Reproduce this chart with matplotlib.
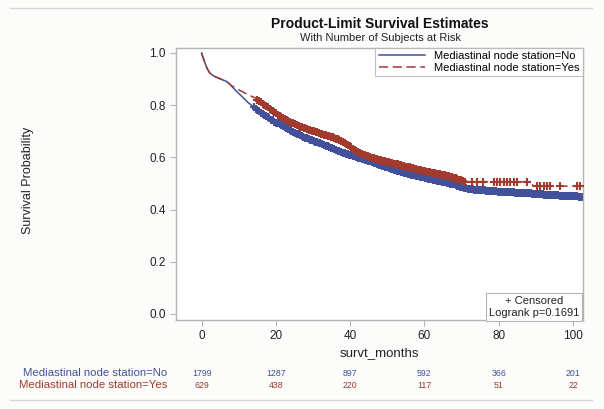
import matplotlib
matplotlib.use('Agg')
import matplotlib.pyplot as plt
import matplotlib.transforms as mtransforms
from matplotlib.lines import Line2D
import numpy as np

plt.rcParams['font.family'] = ['Liberation Sans', 'DejaVu Sans']

# Survival curves (time in months, survival probability).
noTimes = [0, 0.3, 0.9, 1.5, 2.2, 3.2, 4.5, 5.5, 6.7, 7.5, 8.1, 9.5, 10.8, 12.5, 14.4, 16, 18, 20, 22,
           25.5, 28.5, 31.9, 34.5, 37.3, 40, 42.6, 45.4, 48, 50.7, 53.4, 57, 60.6, 63, 66, 68, 69.6,
           71, 73, 75, 80, 85, 88.5, 92, 96, 100, 102.5]
noSurv = [1.0, 0.985, 0.962, 0.94, 0.923, 0.912, 0.904, 0.898, 0.891, 0.882, 0.872, 0.852, 0.834,
          0.81, 0.789, 0.77, 0.751, 0.734, 0.718, 0.692, 0.671, 0.654, 0.638, 0.622, 0.609, 0.597,
          0.585, 0.571, 0.558, 0.545, 0.532, 0.52, 0.512, 0.503, 0.496, 0.488, 0.481, 0.477, 0.475,
          0.469, 0.465, 0.462, 0.458, 0.454, 0.451, 0.449]
yesTimes = [0, 0.3, 0.9, 1.5, 2.2, 3.2, 4.5, 5.5, 6.7, 8.1, 10.8, 12.5, 14.4, 16.2, 18.5, 20.6, 23.5,
            26.5, 29, 31.9, 34.5, 37.3, 40, 42.6, 45, 48, 50.7, 53.4, 57, 60.6, 63, 66, 68, 70.4, 71,
            88.8, 89.2, 102.2]
yesSurv = [1.0, 0.985, 0.962, 0.94, 0.923, 0.912, 0.904, 0.898, 0.891, 0.874, 0.853, 0.84, 0.828,
           0.808, 0.785, 0.764, 0.738, 0.718, 0.705, 0.692, 0.68, 0.667, 0.641, 0.616, 0.603, 0.59,
           0.58, 0.571, 0.558, 0.545, 0.538, 0.53, 0.522, 0.509, 0.507, 0.506, 0.49, 0.49]

# Censoring times (months).
noCensored = [14.1, 14.6, 15.0, 15.5, 15.9, 16.4, 16.8, 17.3, 17.8, 18.2, 18.7, 19.1, 19.6, 20.1,
              20.5, 21.0, 21.4, 21.9, 22.4, 22.8, 23.3, 23.7, 24.2, 24.7, 25.1, 25.6, 26.0, 26.5,
              27.0, 27.4, 27.9, 28.3, 28.8, 29.3, 29.7, 30.2, 30.6, 31.1, 31.6, 32.0, 32.5, 32.9,
              33.4, 33.9, 34.3, 34.8, 35.2, 35.7, 36.2, 36.6, 37.1, 37.5, 38.0, 38.5, 38.9, 39.4,
              39.8, 40.3, 40.8, 41.2, 41.7, 42.1, 42.6, 43.1, 43.5, 44.0, 44.4, 44.9, 45.4, 45.8,
              46.3, 46.7, 47.2, 47.7, 48.1, 48.6, 49.0, 49.5, 50.0, 50.4, 50.9, 51.3, 51.8, 52.3,
              52.7, 53.2, 53.6, 54.1, 54.6, 55.0, 55.5, 55.9, 56.4, 56.9, 57.3, 57.8, 58.2, 58.7,
              59.2, 59.6, 60.1, 60.5, 61.0, 61.5, 61.9, 62.4, 62.8, 63.3, 63.8, 64.2, 64.7, 65.1,
              65.6, 66.1, 66.5, 67.0, 67.4, 67.9, 68.4, 68.8, 69.3, 69.7, 70.2, 70.7, 71.1, 71.6,
              72.0, 72.5, 73.0, 73.4, 73.9, 74.3, 74.8, 75.3, 75.7, 76.2, 76.6, 77.1, 77.6, 78.0,
              78.5, 78.9, 79.4, 79.9, 80.3, 80.8, 81.2, 81.7, 82.2, 82.6, 83.1, 83.5, 84.0, 84.5,
              84.9, 85.4, 85.8, 86.3, 86.8, 87.2, 87.7, 88.1, 88.6, 89.1, 89.5, 90.0, 90.4, 90.9,
              91.4, 91.8, 92.3, 92.7, 93.2, 93.7, 94.1, 94.6, 95.0, 95.5, 96.0, 96.4, 96.9, 97.3,
              97.8, 98.3, 98.7, 99.2, 99.6, 100.1, 100.6, 101.0, 101.5, 101.9, 102.4]
yesCensored = [15.0, 15.5, 15.9, 16.4, 16.9, 17.3, 17.8, 18.3, 18.7, 19.2, 19.6, 20.1, 20.6, 21.0,
               21.5, 21.9, 22.4, 22.9, 23.3, 23.8, 24.2, 24.7, 25.2, 25.6, 26.1, 26.5, 27.0, 27.5,
               27.9, 28.4, 28.8, 29.3, 29.8, 30.2, 30.7, 31.1, 31.6, 32.1, 32.5, 33.0, 33.4, 33.9,
               34.4, 34.8, 35.3, 35.7, 36.2, 36.7, 37.1, 37.6, 38.0, 38.5, 39.0, 39.4, 39.9, 40.3,
               40.8, 41.3, 41.7, 42.2, 42.6, 43.1, 43.6, 44.0, 44.5, 44.9, 45.4, 45.9, 46.3, 46.8,
               47.2, 47.7, 48.2, 48.6, 49.1, 49.5, 50.0, 50.5, 50.9, 51.4, 51.8, 52.3, 52.8, 53.2,
               53.7, 54.1, 54.6, 55.1, 55.5, 56.0, 56.4, 56.9, 57.4, 57.8, 58.3, 58.7, 59.2, 59.7,
               60.1, 60.6, 61.0, 61.5, 62.0, 62.4, 62.9, 63.3, 63.8, 64.3, 64.7, 65.2, 65.6, 66.1,
               66.6, 67.0, 67.5, 67.9, 68.4, 68.9, 69.3, 69.8, 70.3, 71.0, 72.8, 74.1, 75.9, 78.6,
               79.5, 80.4, 81.3, 82.2, 83.1, 84.0, 84.9, 87.6, 90.3, 91.2, 92.1, 93.0, 93.9, 96.6,
               101.0, 102.0]

# Number at risk table.
riskTimes = [0, 20, 40, 60, 80, 100]
noAtRisk = [1799, 1287, 897, 592, 366, 201]
yesAtRisk = [629, 438, 220, 117, 51, 22]

noLabel = 'Mediastinal node station=No'
yesLabel = 'Mediastinal node station=Yes'
blue = '#42519a'
red = '#A23A2E'
gray = '#b4b4b4'

fig = plt.figure(figsize=(6.04, 4.09), dpi=100)
fig.patch.set_facecolor('#fcfcfa')
ax = fig.add_axes([176 / 604, 1 - 320 / 409, 407 / 604, 272 / 409])
ax.set_facecolor('white')

# Curves.
ax.plot(noTimes, noSurv, color=blue, linewidth=1.1, zorder=2, label=noLabel)
ax.plot(yesTimes, yesSurv, color=red, linewidth=1.1, linestyle=(0, (6, 3)), zorder=3, label=yesLabel)

# Censor marks sit on the curves.
ax.plot(noCensored, np.interp(noCensored, noTimes, noSurv), linestyle='none', marker='+',
        markersize=5.5, markeredgewidth=1.5, color=blue, zorder=2)
ax.plot(yesCensored, np.interp(yesCensored, yesTimes, yesSurv), linestyle='none', marker='+',
        markersize=5.5, markeredgewidth=1.5, color=red, zorder=3)

ax.set_xlim(-6.9, 102.7)
ax.set_ylim(-0.023, 1.019)
ax.set_xticks(riskTimes)
ax.set_yticks([0.0, 0.2, 0.4, 0.6, 0.8, 1.0])
ax.set_yticklabels(['0.0', '0.2', '0.4', '0.6', '0.8', '1.0'])
ax.tick_params(axis='both', direction='out', length=4, color=gray, labelsize=8.5, labelcolor='#222222')
ax.tick_params(axis='x', pad=3)
for spine in ax.spines.values():
    spine.set_color(gray)
    spine.set_linewidth(1.0)

ax.set_xlabel('survt_months', fontsize=9.5, color='#222222', labelpad=4)
fig.text(28 / 604, 1 - 180 / 409, 'Survival Probability', rotation=90, ha='center', va='center',
         fontsize=9, color='#222222')

# Legend.
leg = ax.legend(loc='upper right', borderaxespad=0, fontsize=8, frameon=True, fancybox=False,
                handlelength=4.2, handletextpad=0.8, borderpad=0.3, labelspacing=0.15)
leg.get_frame().set_edgecolor(gray)
leg.get_frame().set_linewidth(0.8)

# Censored / logrank box.
ax.text(0.99, 0.008, '+ Censored\nLogrank p=0.1691', transform=ax.transAxes, ha='right', va='bottom',
        multialignment='center', fontsize=8, color='#222222', linespacing=1.2,
        bbox=dict(boxstyle='square,pad=0.25', facecolor='white', edgecolor=gray, linewidth=0.8))

# Titles.
fig.text(380 / 604, 1 - 24 / 409, 'Product-Limit Survival Estimates', ha='center', va='center',
         fontsize=10, fontweight='bold', color='#111111')
fig.text(380 / 604, 1 - 38 / 409, 'With Number of Subjects at Risk', ha='center', va='center',
         fontsize=8, color='#222222')

# Number at risk rows.
trans = mtransforms.blended_transform_factory(ax.transData, fig.transFigure)
rowY = [1 - 373 / 409, 1 - 385.5 / 409]
for label, counts, color, y in [(noLabel, noAtRisk, blue, rowY[0]), (yesLabel, yesAtRisk, red, rowY[1])]:
    fig.text(167 / 604, y, label, ha='right', va='center', fontsize=8.2, color=color)
    for t, n in zip(riskTimes, counts):
        ax.text(t, y, str(n), transform=trans, ha='center', va='center', fontsize=6.3, color=color,
                clip_on=False)

# Frame lines at top and bottom of the graph area.
fig.add_artist(Line2D([10 / 604, 592 / 604], [1 - 8 / 409, 1 - 8 / 409], color='#d6d6d6', linewidth=1.0))
fig.add_artist(Line2D([10 / 604, 592 / 604], [1 - 400 / 409, 1 - 400 / 409], color='#d6d6d6', linewidth=1.0))

plt.savefig('out.png', dpi=100, facecolor=fig.get_facecolor())
